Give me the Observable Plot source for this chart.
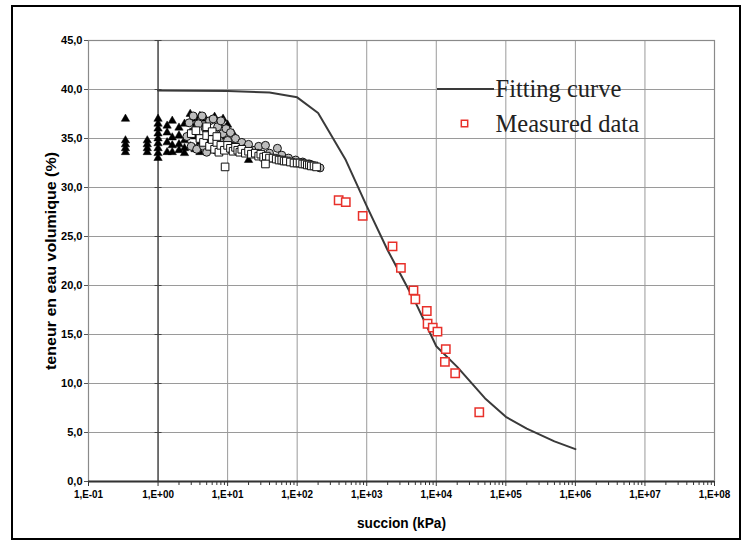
<!DOCTYPE html>
<html>
<head>
<meta charset="utf-8">
<script src="https://cdn.jsdelivr.net/npm/d3@7"></script>
<script src="https://cdn.jsdelivr.net/npm/@observablehq/plot@0.6"></script>
<style>
  html, body { margin: 0; padding: 0; background: #fff; }
  #chart { width: 747px; height: 547px; }
</style>
</head>
<body>
<div id="chart"></div>
<script>
// ---- Data ----
const yTicks = [0, 5, 10, 15, 20, 25, 30, 35, 40, 45];
const xMajorTicks = [0.1, 1, 10, 100, 1e3, 1e4, 1e5, 1e6, 1e7, 1e8];
const xGridTicks = [10, 100, 1e3, 1e4, 1e5, 1e6, 1e7];

// Fitting curve
const fitX = [1, 10, 40, 100, 200, 500, 1000, 2000, 5000, 10000, 20000, 50000, 100000, 200000, 500000, 1000000];
const fitY = [39.9, 39.85, 39.7, 39.2, 37.6, 32.8, 28.1, 23.6, 18.3, 13.8, 11.7, 8.5, 6.6, 5.4, 4.1, 3.3];

// Measured data (red squares)
const measX = [395, 500, 875, 2350, 3100, 4700, 5000, 7300, 7500, 8900, 10400, 13700, 13300, 18700, 41500];
const measY = [28.7, 28.5, 27.1, 24.0, 21.8, 19.5, 18.6, 17.4, 16.1, 15.7, 15.3, 13.5, 12.2, 11.05, 7.07];

// Black triangles
const triX = [0.34,0.34,0.34,0.34,0.34, 0.7,0.7,0.7,0.7,
  1,1,1,1,1,1,1,1,1, 1.35,1.35,1.35,1.35, 1.6,1.6,1.6,1.6, 2,2,2,2,
  2.4,2.4,2.4,2.4, 2.9,2.9,2.9,2.9, 3.4,3.4,3.4,3.4, 4,4,4,4, 4.8,4.8,4.8,
  5.7,5.7, 6.5,6.5, 7.5,7.5, 8.6,8.6, 10,10, 12, 20];
const triY = [37.0,34.8,34.4,34.0,33.6, 34.8,34.4,34.0,33.6,
  37.0,36.5,36.0,35.5,35.0,34.5,34.0,33.5,33.0, 36.3,35.6,34.6,33.6, 36.8,35.1,34.3,33.6, 36.1,35.3,34.4,33.8,
  36.5,34.8,34.0,33.5, 37.5,36.6,35.6,34.2, 37.0,36.2,35.2,33.9, 37.3,36.5,34.6,33.6, 37.0,36.2,34.2,
  36.8,34.0, 37.2,35.8, 36.5,34.2, 37.0,35.2, 36.4,34.0, 35.5, 32.8];

// Grey circles
const circX = [2.6,2.8,3.0,3.2,3.4,3.6,3.8,4.0,4.3,4.5,4.8,5.0,5.2,5.5,5.8,6.2,6.5,6.8,7.2,7.6,8.0,8.5,9.0,9.5,10,11,12,13,14,16,18,20,24,28,35,40,52,60,75,95,120,150,180,213];
const circY = [35.2,36.6,34.2,37.3,35.8,33.9,36.5,35.0,37.3,34.2,36.0,33.6,35.2,36.8,34.5,37.0,35.5,33.8,36.2,34.8,36.8,35.5,34.0,36.0,34.8,35.6,34.2,35.0,33.8,34.6,34.0,34.4,33.8,34.2,34.3,33.5,34.0,33.3,33.0,32.8,32.6,32.4,32.2,32.0];

// White squares
const sqX = [3.0,3.5,4.0,4.5,5.0,5.5,6.0,6.5,7.0,7.5,8.0,9.0,10,11,12,13,14,15,16,18,20,22,25,28,30,33,36,40,45,50,55,60,65,70,80,90,100,110,120,130,140,150,160,175,190, 9.2,35,5,6,7];
const sqY = [35.5,35.8,35.0,34.6,35.3,34.2,34.9,33.9,34.6,33.6,34.3,33.8,34.3,34.0,33.7,34.1,33.8,33.6,33.9,33.5,33.7,33.4,33.5,33.2,33.4,33.1,33.2,33.0,33.0,32.9,32.8,32.8,32.7,32.7,32.6,32.5,32.5,32.5,32.4,32.4,32.3,32.3,32.2,32.2,32.1, 32.1,32.4,36.2,35.7,35.2];

// Texts
const legendLabels = ["Fitting curve", "Measured data"];
const yTitle = "teneur en eau volumique (%)";
const xTitle = "succion (kPa)";

// ---- Build ----
const fit = fitX.map((x, i) => ({x, y: fitY[i]}));
const meas = measX.map((x, i) => ({x, y: measY[i]}));
const tri = triX.map((x, i) => ({x, y: triY[i]}));
const circ = circX.map((x, i) => ({x, y: circY[i]}));
const sq = sqX.map((x, i) => ({x, y: sqY[i]}));

const minorTicks = [];
for (let k = 0; k < 8; k++) for (let m = 2; m <= 9; m++) minorTicks.push(m * Math.pow(10, k));

const hline = { draw(ctx, size) { const r = Math.sqrt(size / Math.PI); ctx.moveTo(-r, 0); ctx.lineTo(r, 0); } };

const fmtX = d => { const e = Math.round(Math.log10(d)); return "1,E" + (e >= 0 ? "+" : "-") + String(Math.abs(e)).padStart(2, "0"); };
const fmtY = d => d.toFixed(1).replace(".", ",");
const sans = "'Liberation Sans', Arial, sans-serif";
const serif = "'Liberation Serif', 'Times New Roman', serif";

const chart = Plot.plot({
  width: 747,
  height: 547,
  marginLeft: 88,
  marginRight: 33,
  marginTop: 40,
  marginBottom: 66,
  style: { background: "#fff", fontFamily: sans, color: "#000" },
  x: { type: "log", domain: [0.1, 1e8] },
  y: { domain: [0, 45] },
  marks: [
    Plot.gridY(yTicks, { stroke: "#9a9a9a", strokeOpacity: 1, strokeWidth: 1 }),
    Plot.gridX(xGridTicks, { stroke: "#9a9a9a", strokeOpacity: 1, strokeWidth: 1 }),
    Plot.frame({ stroke: "#8a8a8a", strokeWidth: 1.2 }),
    Plot.axisY(yTicks, { tickFormat: fmtY, tickSize: 4, tickPadding: 2, fontSize: 11, fontWeight: "bold", label: null, stroke: "#555" }),
    Plot.axisX(minorTicks, { tickSize: 4, text: null, label: null, stroke: "#333" }),
    Plot.axisX(xMajorTicks, { tickFormat: fmtX, tickSize: 5, tickPadding: 4, fontSize: 11, fontWeight: "bold", label: null, stroke: "#333" }),
    Plot.ruleX([1], { stroke: "#444", strokeWidth: 1.5 }),
    Plot.dot(yTicks, { x: () => 1, y: d => d, symbol: hline, r: 3.5, stroke: "#444", strokeWidth: 1 }),
    Plot.ruleY([0], { stroke: "#333", strokeWidth: 2 }),
    Plot.text([yTitle], { frameAnchor: "left", dx: -37, rotate: -90, textAnchor: "middle", lineAnchor: "middle", fontSize: 15, fontWeight: "bold", fill: "#000" }),
    Plot.text([xTitle], { frameAnchor: "bottom", dx: 0, dy: 42, textAnchor: "middle", lineAnchor: "middle", fontSize: 15, fontWeight: "bold", fill: "#000" }),
    // cluster data
    Plot.dot(tri, { x: "x", y: "y", symbol: "triangle", r: 3.1, fill: "#000", stroke: "#000", strokeWidth: 0.5 }),
    Plot.dot(circ, { x: "x", y: "y", symbol: "circle", r: 4, fill: "#bdbdbd", stroke: "#111", strokeWidth: 1 }),
    Plot.dot(sq, { x: "x", y: "y", symbol: "square", r: 4.3, fill: "#fff", stroke: "#111", strokeWidth: 1 }),
    // fitting curve
    Plot.line(fit, { x: "x", y: "y", stroke: "#3a3a3a", strokeWidth: 2 }),
    // measured
    Plot.dot(meas, { x: "x", y: "y", symbol: "square", r: 4.7, fill: "#fff", stroke: "#e8302a", strokeWidth: 1.5 }),
    // legend
    Plot.text([legendLabels[0]], { frameAnchor: "top-left", dx: 407, dy: 49, textAnchor: "start", lineAnchor: "middle", fontSize: 24.5, fontFamily: serif, fill: "#222" }),
    Plot.text([legendLabels[1]], { frameAnchor: "top-left", dx: 407, dy: 84, textAnchor: "start", lineAnchor: "middle", fontSize: 24.5, fontFamily: serif, fill: "#222" }),
    Plot.dot([legendLabels[1]], { frameAnchor: "top-left", dx: 376, dy: 83, symbol: "square", r: 3.6, fill: "#fff", stroke: "#e8302a", strokeWidth: 1.5 })
  ]
});

const svg = d3.select(chart);
// legend line for fitting curve
svg.append("line").attr("x1", 437).attr("x2", 494).attr("y1", 89).attr("y2", 89).attr("stroke", "#3a3a3a").attr("stroke-width", 2);
// outer border
svg.append("rect").attr("x", 12).attr("y", 6).attr("width", 728).attr("height", 533).attr("fill", "none").attr("stroke", "#000").attr("stroke-width", 2);

document.getElementById("chart").appendChild(chart);

// condense some texts to match narrow-font look
svg.selectAll("text").each(function () {
  const t = this.textContent;
  let target = null;
  if (t === xTitle) target = 89;
  else if (t === yTitle) target = 218;
  else if (/^1,E/.test(t)) target = this.getComputedTextLength() * 0.9;
  if (target) {
    this.setAttribute("textLength", target);
    this.setAttribute("lengthAdjust", "spacingAndGlyphs");
  }
});
</script>
</body>
</html>
